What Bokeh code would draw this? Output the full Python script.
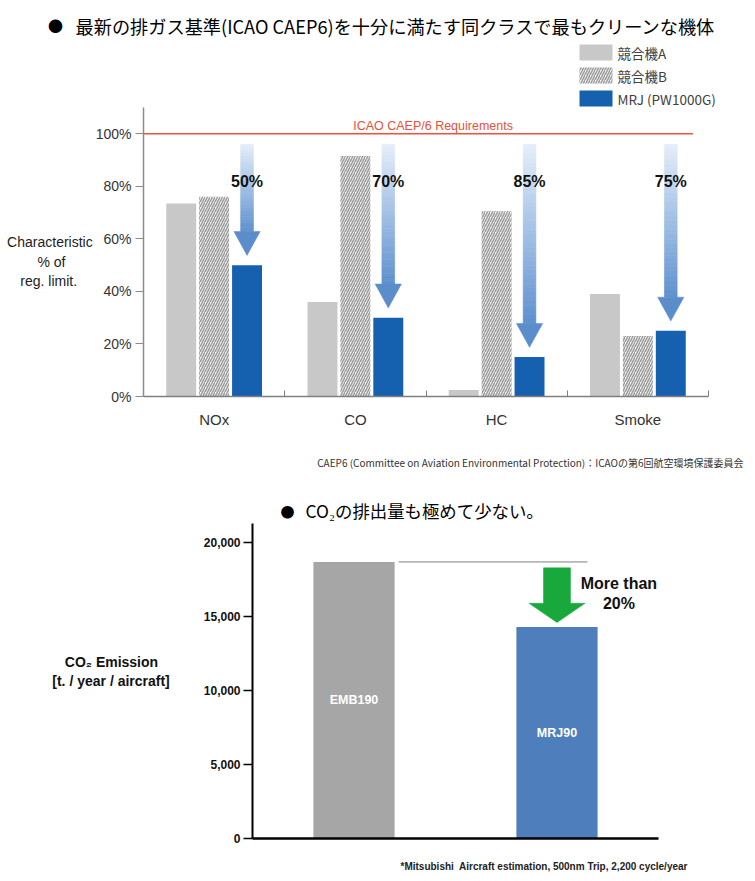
from bokeh.plotting import figure
from bokeh.models import (Label, FixedTicker, PrintfTickFormatter,
                          NumeralTickFormatter, Range1d, ColumnDataSource)
from bokeh.embed import file_html
from bokeh.resources import INLINE
from bokeh.core.properties import value

# ---------------- data ----------------
pollutants = ["NOx", "CO", "HC", "Smoke"]
competitor_a = [73.5, 36, 2.5, 39]
competitor_b = [76, 91.5, 70.5, 23]
mrj_engine = [50, 30, 15, 25]
reduction_labels = ["50%", "70%", "85%", "75%"]
series_names = ["競合機A", "競合機B", "MRJ (PW1000G)"]
caep6_limit = 100
pct_ticks = [0, 20, 40, 60, 80, 100]

aircraft = ["EMB190", "MRJ90"]
co2_emission = [18700, 14300]
co2_ticks = [0, 5000, 10000, 15000, 20000]
co2_reduction_text = ["More than", "20%"]

LAT = "Liberation Sans"
JP = "Noto Sans CJK JP"
W = 755
NB = "\u00a0"

STYLE_A = dict(fill_color="#c8c8c8", line_color=None)
STYLE_B = dict(fill_color="#f4f4f4", line_color=None, hatch_pattern="/", hatch_color="#9c9c9c",
               hatch_scale=5, hatch_weight=1.5)
STYLE_M = dict(fill_color="#1660b0", line_color=None)
SERIES_STYLES = [STYLE_A, STYLE_B, STYLE_M]


def text_fig(h):
    f = figure(width=W, height=h, output_backend="svg", toolbar_location=None,
               x_range=Range1d(0, W), y_range=Range1d(h, 0),
               min_border_left=0, min_border_right=0, min_border_top=0, min_border_bottom=0)
    f.axis.visible = False
    f.grid.visible = False
    f.outline_line_color = None
    return f


def lab(p, x, y, text, size, font=LAT, style="normal", align="left", color="#222222"):
    p.add_layout(Label(x=x, y=y, text=text, text_font=font, text_font_size=size,
                       text_font_style=style, text_align=align, text_baseline="middle",
                       text_color=color))


# ---------------- header 1: title + legend ----------------
h1 = text_fig(107)
lab(h1, 55, 25, "●", "15px", font=JP, align="center", color="#000000")
lab(h1, 75, 25, "最新の排ガス基準(ICAO CAEP6)を十分に満たす同クラスで最もクリーンな機体", "18.2px",
    font=JP, color="#000000")
for i, (name, st) in enumerate(zip(series_names, SERIES_STYLES)):
    top = 44 + 23 * i
    h1.quad(left=[579], right=[612], top=[top], bottom=[top + 16], **st)
    lab(h1, 617, top + 8, name, "13.5px", font=JP, color="#404040")

# ---------------- top chart ----------------
p1 = figure(width=W, height=334, output_backend="svg", toolbar_location=None,
            x_range=Range1d(0, 4), y_range=Range1d(0, 110),
            min_border_left=143, min_border_right=47, min_border_top=0, min_border_bottom=45)
p1.outline_line_color = None
p1.xgrid.visible = False
p1.ygrid.visible = False

n = len(pollutants)
xa = [i + 0.5 - 0.233 for i in range(n)]
xb = [i + 0.5 for i in range(n)]
xm = [i + 0.5 + 0.233 for i in range(n)]
bw = 0.212

p1.vbar(x=xa, top=competitor_a, width=bw, **STYLE_A)
p1.vbar(x=xb, top=competitor_b, width=bw, **STYLE_B)
p1.vbar(x=xm, top=mrj_engine, width=bw, **STYLE_M)


def blend(t):
    c0 = (228, 237, 249)
    c1 = (96, 146, 207)
    return "#%02x%02x%02x" % tuple(int(round(a + (b - a) * t)) for a, b in zip(c0, c1))


shaft_top = 96.0
shaft_hw = 0.045
head_hw = 0.093
L, R, T, B, C = [], [], [], [], []
hx, hy = [], []
nslices = 40
for x, v in zip(xm, mrj_engine):
    head_base = v + 12.8
    tip = v + 3.7
    for k in range(nslices):
        t0 = shaft_top - (shaft_top - head_base) * k / nslices
        t1 = shaft_top - (shaft_top - head_base) * (k + 1) / nslices
        L.append(x - shaft_hw); R.append(x + shaft_hw)
        T.append(t0); B.append(t1)
        C.append(blend(k / (nslices - 1)))
    hx.append([x - head_hw, x + head_hw, x])
    hy.append([head_base, head_base, tip])
src = ColumnDataSource(dict(left=L, right=R, top=T, bottom=B, color=C))
p1.quad(left="left", right="right", top="top", bottom="bottom", fill_color="color",
        line_color="color", line_width=0.6, source=src)
p1.patches(xs=hx, ys=hy, fill_color="#5b8dcb", line_color="#5b8dcb", line_width=0.5)

p1.text(x=xm, y=[82] * n, text=reduction_labels, text_align="center", text_baseline="middle",
        text_font=value(LAT), text_font_style="bold", text_font_size="16px", text_color="#111111")

p1.segment(x0=[0], x1=[3.89], y0=[caep6_limit], y1=[caep6_limit], line_color="#f0503c", line_width=1.5)
p1.add_layout(Label(x=2.05, y=caep6_limit, text="ICAO CAEP/6 Requirements", text_align="center",
                    text_baseline="bottom", y_offset=1, text_font=LAT, text_font_size="12.5px",
                    text_color="#e8503a"))

p1.yaxis.ticker = FixedTicker(ticks=pct_ticks)
p1.yaxis.formatter = PrintfTickFormatter(format="%d%%")
p1.yaxis.axis_line_color = "#8c8c8c"
p1.yaxis.axis_line_width = 1.5
p1.yaxis.major_tick_line_color = "#8c8c8c"
p1.yaxis.major_tick_out = 8
p1.yaxis.major_tick_in = 0
p1.yaxis.minor_tick_line_color = None
p1.yaxis.major_label_standoff = 4
p1.yaxis.major_label_text_font = LAT
p1.yaxis.major_label_text_font_size = "14px"
p1.yaxis.major_label_text_color = "#333333"
p1.yaxis.axis_label = NB + "\nCharacteristic\n% of" + NB * 7 + "\nreg. limit." + NB * 4
p1.yaxis.axis_label_orientation = "horizontal"
p1.yaxis.axis_label_standoff = 0
p1.yaxis.axis_label_text_font = LAT
p1.yaxis.axis_label_text_font_size = "14px"
p1.yaxis.axis_label_text_font_style = "normal"
p1.yaxis.axis_label_text_color = "#222222"

p1.xaxis.ticker = FixedTicker(ticks=[i + 0.5 for i in range(n)], minor_ticks=[1, 2, 3, 4])
p1.xaxis.major_label_overrides = {i + 0.5: name for i, name in enumerate(pollutants)}
p1.xaxis.axis_line_color = "#7f7f7f"
p1.xaxis.axis_line_width = 1.5
p1.xaxis.major_tick_line_color = None
p1.xaxis.minor_tick_line_color = "#7f7f7f"
p1.xaxis.minor_tick_in = 6
p1.xaxis.minor_tick_out = 0
p1.xaxis.major_label_standoff = 8
p1.xaxis.major_label_text_font = LAT
p1.xaxis.major_label_text_font_size = "15px"
p1.xaxis.major_label_text_color = "#333333"

# ---------------- footer 1 ----------------
f1 = text_fig(37)
lab(f1, 743, 21, "CAEP6 (Committee on Aviation Environmental Protection)：ICAOの第6回航空環境保護委員会",
    "10px", font=JP, align="right", color="#333333")

# ---------------- header 2 ----------------
h2 = text_fig(45)
lab(h2, 287, 32, "●", "14px", font=JP, align="center", color="#000000")
lab(h2, 305, 32, "CO₂の排出量も極めて少ない。", "17.4px", font=JP, color="#000000")

# ---------------- bottom chart ----------------
p2 = figure(width=W, height=330, output_backend="svg", toolbar_location=None,
            x_range=Range1d(0, 2), y_range=Range1d(0, 21300),
            min_border_left=252, min_border_right=97, min_border_top=0, min_border_bottom=15)
p2.outline_line_color = None
p2.xgrid.visible = False
p2.ygrid.visible = False

bx = [i + 0.5 for i in range(len(aircraft))]
p2.vbar(x=bx, top=co2_emission, width=0.4, fill_color=["#a6a6a6", "#4f7ebd"], line_color=None)
p2.text(x=bx, y=[v / 2 for v in co2_emission], text=aircraft, text_align="center",
        text_baseline="middle", text_font=value(LAT), text_font_style="bold",
        text_font_size="12.5px", text_color="#ffffff")

emb, mrj = co2_emission
p2.segment(x0=[0.72], x1=[1.65], y0=[emb], y1=[emb], line_color="#7f7f7f", line_width=1)
ax = bx[1]
sh, hh = 0.0665, 0.138
s_top, h_base, a_tip = emb - 400, mrj + 1600, mrj + 300
p2.patch(x=[ax - sh, ax + sh, ax + sh, ax + hh, ax, ax - hh, ax - sh],
         y=[s_top, s_top, h_base, h_base, a_tip, h_base, h_base],
         fill_color="#19a83c", line_color="#19a83c", line_width=0.5)
for txt, yy in zip(co2_reduction_text, [17250, 15890]):
    p2.add_layout(Label(x=1.805, y=yy, text=txt, text_align="center", text_baseline="middle",
                        text_font=LAT, text_font_style="bold", text_font_size="16px",
                        text_color="#111111"))

p2.yaxis.ticker = FixedTicker(ticks=co2_ticks)
p2.yaxis.formatter = NumeralTickFormatter(format="0,0")
p2.yaxis.axis_line_color = "#000000"
p2.yaxis.axis_line_width = 2
p2.yaxis.major_tick_line_color = "#000000"
p2.yaxis.major_tick_line_width = 1.5
p2.yaxis.major_tick_out = 9
p2.yaxis.major_tick_in = 0
p2.yaxis.minor_tick_line_color = None
p2.yaxis.major_label_standoff = 3
p2.yaxis.major_label_text_font = LAT
p2.yaxis.major_label_text_font_style = "bold"
p2.yaxis.major_label_text_font_size = "12px"
p2.yaxis.major_label_text_color = "#111111"
p2.yaxis.axis_label = "CO₂ Emission" + NB * 3 + "\n[t. / year / aircraft]\n" + NB
p2.yaxis.axis_label_orientation = "horizontal"
p2.yaxis.axis_label_standoff = 31
p2.yaxis.axis_label_text_font = LAT
p2.yaxis.axis_label_text_font_size = "14px"
p2.yaxis.axis_label_text_font_style = "bold"
p2.yaxis.axis_label_text_color = "#111111"

p2.xaxis.ticker = FixedTicker(ticks=[])
p2.xaxis.axis_line_color = "#000000"
p2.xaxis.axis_line_width = 2.5
p2.xaxis.major_tick_line_color = None
p2.xaxis.minor_tick_line_color = None
p2.xaxis.major_label_text_font_size = "0px"

# ---------------- footer 2 ----------------
f2 = text_fig(26)
lab(f2, 400, 13, "*Mitsubishi" + NB + " Aircraft estimation, 500nm Trip, 2,200 cycle/year", "10px",
    style="bold", color="#222222")

open("out.html", "w").write(file_html([h1, p1, f1, h2, p2, f2], INLINE))
